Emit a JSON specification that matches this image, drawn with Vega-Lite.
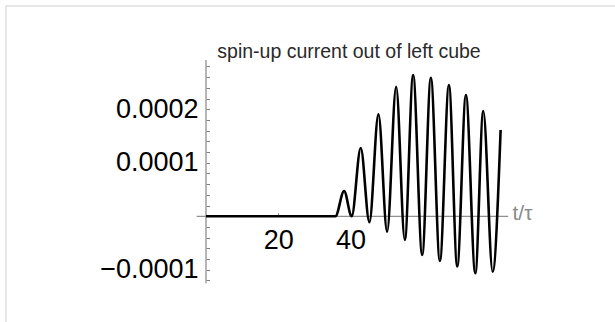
{
  "$schema": "https://vega.github.io/schema/vega-lite/v6.json",
  "width": 613,
  "height": 320,
  "autosize": {"type": "none"},
  "padding": {"left": 6, "top": 6, "right": -4, "bottom": -4},
  "background": "white",
  "config": {"view": {"stroke": "#e0e0e0", "strokeWidth": 1.5}},
  "title": {
    "text": "spin-up current out of left cube",
    "anchor": "middle",
    "frame": "group",
    "offset": 0,
    "dx": 36.5,
    "dy": 71,
    "baseline": "alphabetic",
    "font": "Liberation Sans",
    "fontSize": 19.5,
    "fontWeight": "normal",
    "color": "#2a2a2a"
  },
  "datasets": {
    "curve": [
      {"t": 0, "v": 0},
      {"t": 35.8, "v": 0},
      {"t": 38.2, "v": 0.0000473},
      {"t": 40.3, "v": 0},
      {"t": 42.8, "v": 0.0001277},
      {"t": 45.2, "v": -0.000011},
      {"t": 47.7, "v": 0.0001908},
      {"t": 50.1, "v": -0.0000288},
      {"t": 52.6, "v": 0.0002422},
      {"t": 55.0, "v": -0.0000443},
      {"t": 57.3, "v": 0.0002641},
      {"t": 59.8, "v": -0.0000723},
      {"t": 62.2, "v": 0.0002591},
      {"t": 64.7, "v": -0.0000836},
      {"t": 67.2, "v": 0.0002454},
      {"t": 69.5, "v": -0.0000938},
      {"t": 71.9, "v": 0.0002267},
      {"t": 74.5, "v": -0.0001065},
      {"t": 76.7, "v": 0.0001968},
      {"t": 79.3, "v": -0.0001036},
      {"t": 81.5, "v": 0.0001613}
    ],
    "xaxis": [{"t": -2.6, "t2": 83.6, "v": 0}],
    "yaxis": [{"t": 0, "v": -0.000125, "v2": 0.000292}]
  },
  "encoding": {
    "x": {
      "field": "t", "type": "quantitative",
      "scale": {"domain": [-55.325, 114.246], "nice": false, "zero": false},
      "axis": {
        "values": [20, 40],
        "domain": false,
        "grid": false,
        "offset": -109.7,
        "tickSize": -3.5,
        "tickColor": "#808080",
        "tickWidth": 1,
        "labelFont": "Liberation Sans",
        "labelFontSize": 27,
        "labelColor": "#000000",
        "labelPadding": 14.3,
        "labelFlush": false,
        "labelOverlap": false,
        "title": "t/τ",
        "titleFont": "Liberation Sans",
        "titleFontSize": 21,
        "titleFontWeight": "normal",
        "titleColor": "#8a8a8a",
        "titleX": 506,
        "titleY": -3,
        "titleAlign": "left",
        "titleBaseline": "middle",
        "titleAngle": 0
      }
    },
    "y": {
      "field": "v", "type": "quantitative",
      "scale": {"domain": [-0.00020505, 0.00039308], "nice": false, "zero": false},
      "axis": {
        "values": [-0.00012, -0.0001, -0.00008, -0.00006, -0.00004, -0.00002, 0.00002, 0.00004, 0.00006, 0.00008, 0.0001, 0.00012, 0.00014, 0.00016, 0.00018, 0.0002, 0.00022, 0.00024, 0.00026, 0.00028],
        "format": ".4f",
        "labelExpr": "(datum.value == 0.0001 || datum.value == 0.0002 || datum.value == -0.0001) ? datum.label : ''",
        "domain": false,
        "grid": false,
        "offset": -200,
        "tickSize": -3.5,
        "tickColor": "#808080",
        "tickWidth": 1,
        "labelFont": "Liberation Sans",
        "labelFontSize": 27,
        "labelColor": "#000000",
        "labelPadding": 11.5,
        "labelFlush": false,
        "labelOverlap": false,
        "title": null
      }
    }
  },
  "layer": [
    {
      "data": {"name": "xaxis"},
      "mark": {"type": "rule", "color": "#909090", "strokeWidth": 1.3},
      "encoding": {"x2": {"field": "t2"}}
    },
    {
      "data": {"name": "yaxis"},
      "mark": {"type": "rule", "color": "#909090", "strokeWidth": 1.3},
      "encoding": {"y2": {"field": "v2"}}
    },
    {
      "data": {"name": "curve"},
      "mark": {"type": "line", "color": "#000000", "strokeWidth": 2.6, "interpolate": "monotone"},
      "encoding": {}
    }
  ]
}
